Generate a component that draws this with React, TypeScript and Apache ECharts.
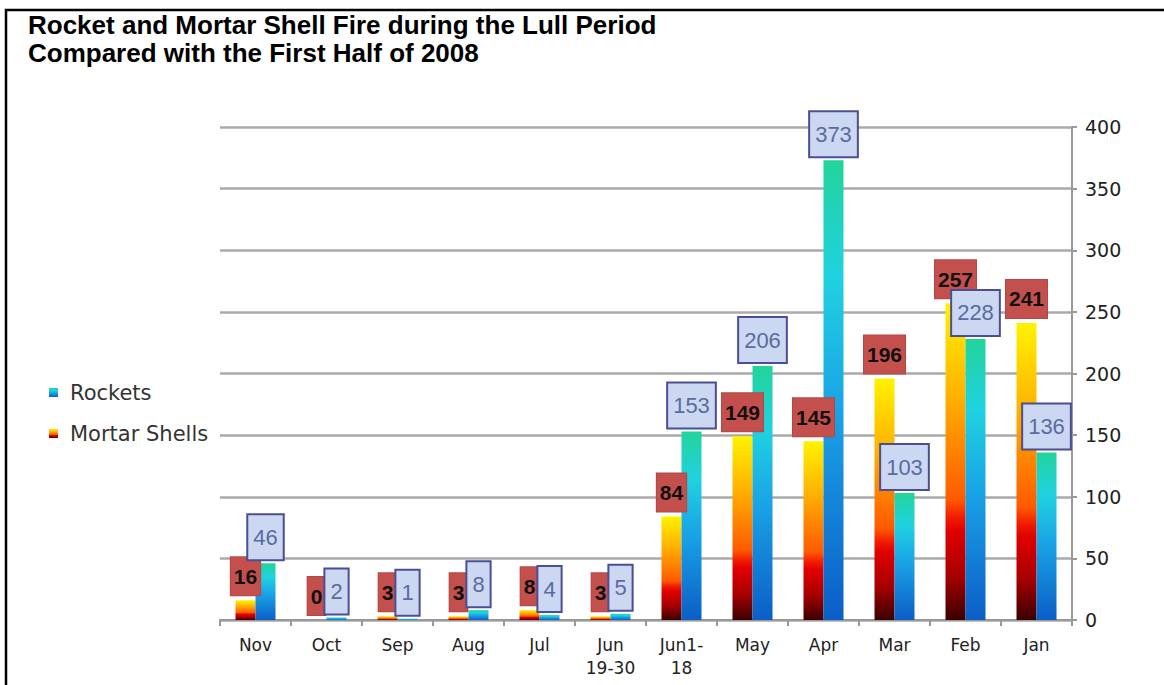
import React, { useEffect, useRef } from "react";
import * as echarts from "echarts";

const categories = ["Nov", "Oct", "Sep", "Aug", "Jul", "Jun\n19-30", "Jun1-\n18", "May", "Apr", "Mar", "Feb", "Jan"];
const mortarShells = [16, 0, 3, 3, 8, 3, 84, 149, 145, 196, 257, 241];
const rockets = [46, 2, 1, 8, 4, 5, 153, 206, 373, 103, 228, 136];
const titleLines = ["Rocket and Mortar Shell Fire during the Lull Period", "Compared with the First Half of 2008"];

const mortarGradient = new echarts.graphic.LinearGradient(0, 0, 0, 1, [
  { offset: 0, color: "#fff200" },
  { offset: 0.3, color: "#ffb000" },
  { offset: 0.62, color: "#ff5a00" },
  { offset: 0.68, color: "#f01800" },
  { offset: 0.72, color: "#e00000" },
  { offset: 0.86, color: "#a80000" },
  { offset: 1, color: "#3a0000" },
]);
const rocketGradient = new echarts.graphic.LinearGradient(0, 0, 0, 1, [
  { offset: 0, color: "#22d49a" },
  { offset: 0.25, color: "#20d2e0" },
  { offset: 0.55, color: "#1aa2e6" },
  { offset: 1, color: "#0b5ec6" },
]);

export default function App() {
  const ref = useRef<HTMLDivElement>(null);
  useEffect(() => {
    if (!ref.current) return;
    const chart = echarts.init(ref.current, null, { renderer: "svg" });
    const sans = '"Liberation Sans", Arial, sans-serif';
    chart.setOption({
      animation: false,
      backgroundColor: "#ffffff",
      grid: { left: 220, right: 92, top: 127, bottom: 65, outerBoundsMode: "none" },
      legend: {
        orient: "vertical",
        left: 49,
        top: 382,
        padding: 0,
        itemWidth: 9,
        itemHeight: 9,
        itemGap: 20,
        icon: "rect",
        data: ["Rockets", "Mortar Shells"],
        textStyle: { fontFamily: "DejaVu Sans", fontSize: 21, color: "#333", padding: [0, 0, 0, 7] },
      },
      graphic: [
        {
          type: "polyline",
          shape: { points: [[6, 685], [6, 10], [1164, 10]] },
          style: { stroke: "#000", lineWidth: 2.5, fill: "none" },
        },
        ...titleLines.map((t, i) => ({
          type: "text",
          x: 28,
          y: 25 + i * 27.5,
          style: {
            text: t,
            font: '700 26px "Liberation Sans", Arial, sans-serif',
            fill: "#000",
            verticalAlign: "middle",
          },
        })),
      ],
      xAxis: {
        type: "category",
        data: categories,
        axisLine: { lineStyle: { color: "#999", width: 2 } },
        axisTick: { show: true, length: 6, lineStyle: { color: "#999", width: 2 } },
        axisLabel: { fontFamily: "DejaVu Sans", fontSize: 17, color: "#222", margin: 13, lineHeight: 23 },
      },
      yAxis: {
        type: "value",
        position: "right",
        min: 0,
        max: 400,
        interval: 50,
        axisLine: { show: true, lineStyle: { color: "#999", width: 2 } },
        axisTick: { show: true, length: 5, lineStyle: { color: "#999", width: 2 } },
        axisLabel: { fontFamily: "DejaVu Sans", fontSize: 19, color: "#222", margin: 13 },
        splitLine: { lineStyle: { color: "#aaa", width: 2.5 } },
      },
      series: [
        {
          name: "Mortar Shells",
          type: "bar",
          barWidth: 20,
          barGap: "0%",
          itemStyle: { color: mortarGradient },
          label: {
            show: true,
            position: "top",
            distance: 5,
            fontFamily: sans,
            fontWeight: "bold",
            fontSize: 21,
            lineHeight: 22,
            color: "#111",
            backgroundColor: "#c4504e",
            borderColor: "#b44844",
            borderWidth: 1,
            padding: [8, 3],
          },
          data: mortarShells,
        },
        {
          name: "Rockets",
          type: "bar",
          barWidth: 20,
          itemStyle: { color: rocketGradient },
          label: {
            show: true,
            position: "top",
            distance: 4,
            fontFamily: sans,
            fontSize: 22,
            lineHeight: 22,
            color: "#5a6b9e",
            backgroundColor: "#ccd8f2",
            borderColor: "#4b4d95",
            borderWidth: 2,
            padding: [11, 5],
          },
          data: rockets,
        },
      ],
    });
    return () => chart.dispose();
  }, []);
  return <div ref={ref} style={{ position: "fixed", left: 0, top: 0, width: 1164, height: 685 }} />;
}
